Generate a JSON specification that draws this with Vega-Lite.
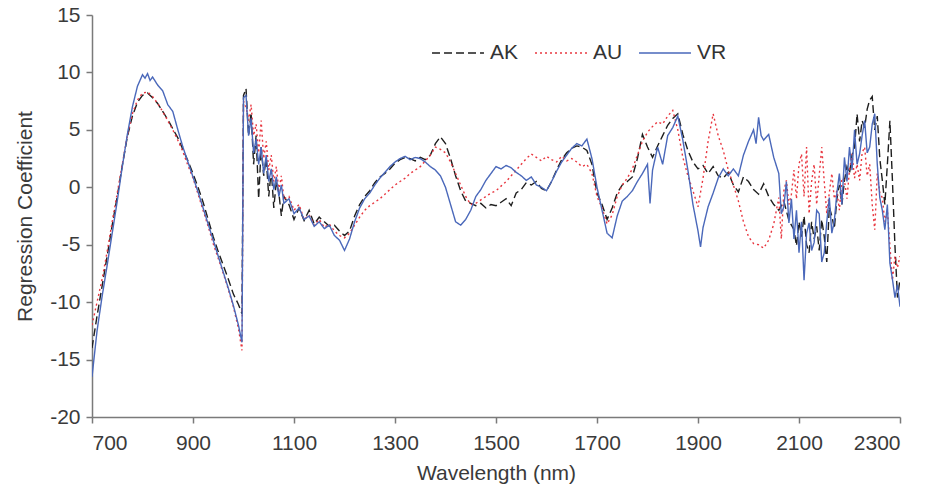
{
  "$schema": "https://vega.github.io/schema/vega-lite/v6.json",
  "width": 808,
  "height": 402,
  "autosize": {"type": "none"},
  "padding": {"left": 92, "top": 15, "right": 28, "bottom": 71},
  "background": "white",
  "config": {
    "view": {"stroke": null},
    "font": "Liberation Sans",
    "axis": {"grid": false, "domainColor": "#7a7a7a", "tickColor": "#7a7a7a", "labelColor": "#3a3a3a", "titleColor": "#3a3a3a", "labelFontSize": 21, "titleFontSize": 21, "titleFontWeight": "normal", "tickSize": 6, "domainWidth": 1.5, "tickWidth": 1.5}
  },
  "datasets": {
    "spectra": [
{"w":700,"s":"AK","v":-14},{"w":710,"s":"AK","v":-11.2},{"w":720,"s":"AK","v":-8.6},{"w":730,"s":"AK","v":-6},{"w":740,"s":"AK","v":-3.3},{"w":750,"s":"AK","v":-0.8},{"w":760,"s":"AK","v":1.9},{"w":770,"s":"AK","v":4.4},{"w":780,"s":"AK","v":6.2},{"w":790,"s":"AK","v":7.4},{"w":800,"s":"AK","v":8.0},{"w":810,"s":"AK","v":8.2},{"w":820,"s":"AK","v":7.8},{"w":830,"s":"AK","v":7.3},{"w":840,"s":"AK","v":6.6},{"w":850,"s":"AK","v":5.9},{"w":860,"s":"AK","v":5.1},{"w":870,"s":"AK","v":4.3},{"w":880,"s":"AK","v":3.3},{"w":890,"s":"AK","v":2.3},{"w":900,"s":"AK","v":1.2},{"w":910,"s":"AK","v":0},{"w":920,"s":"AK","v":-1.3},{"w":930,"s":"AK","v":-2.8},{"w":940,"s":"AK","v":-4.3},{"w":950,"s":"AK","v":-5.6},{"w":960,"s":"AK","v":-6.8},{"w":970,"s":"AK","v":-8.0},{"w":980,"s":"AK","v":-9.3},{"w":990,"s":"AK","v":-10.2},{"w":997,"s":"AK","v":-11},{"w":1000,"s":"AK","v":8.0},{"w":1005,"s":"AK","v":8.6},{"w":1010,"s":"AK","v":4.5},{"w":1015,"s":"AK","v":6.5},{"w":1020,"s":"AK","v":2.0},{"w":1025,"s":"AK","v":4.5},{"w":1030,"s":"AK","v":-1.0},{"w":1035,"s":"AK","v":3.5},{"w":1040,"s":"AK","v":1.0},{"w":1045,"s":"AK","v":2.5},{"w":1050,"s":"AK","v":-0.8},{"w":1055,"s":"AK","v":1.5},{"w":1060,"s":"AK","v":-1.8},{"w":1065,"s":"AK","v":0.5},{"w":1070,"s":"AK","v":-0.5},{"w":1075,"s":"AK","v":-2.5},{"w":1080,"s":"AK","v":-0.8},{"w":1090,"s":"AK","v":-1.5},{"w":1100,"s":"AK","v":-2.8},{"w":1110,"s":"AK","v":-1.8},{"w":1120,"s":"AK","v":-2.9},{"w":1130,"s":"AK","v":-2.0},{"w":1140,"s":"AK","v":-3.2},{"w":1150,"s":"AK","v":-2.6},{"w":1160,"s":"AK","v":-3.0},{"w":1170,"s":"AK","v":-3.4},{"w":1180,"s":"AK","v":-3.3},{"w":1190,"s":"AK","v":-3.8},{"w":1200,"s":"AK","v":-4.2},{"w":1210,"s":"AK","v":-3.8},{"w":1220,"s":"AK","v":-2.5},{"w":1230,"s":"AK","v":-1.5},{"w":1240,"s":"AK","v":-0.8},{"w":1250,"s":"AK","v":-0.3},{"w":1260,"s":"AK","v":0.4},{"w":1270,"s":"AK","v":0.9},{"w":1280,"s":"AK","v":1.2},{"w":1290,"s":"AK","v":1.6},{"w":1300,"s":"AK","v":2.1},{"w":1310,"s":"AK","v":2.4},{"w":1320,"s":"AK","v":2.6},{"w":1330,"s":"AK","v":2.5},{"w":1340,"s":"AK","v":2.3},{"w":1350,"s":"AK","v":2.6},{"w":1360,"s":"AK","v":2.4},{"w":1370,"s":"AK","v":2.8},{"w":1380,"s":"AK","v":3.8},{"w":1390,"s":"AK","v":4.4},{"w":1400,"s":"AK","v":3.8},{"w":1410,"s":"AK","v":2.5},{"w":1420,"s":"AK","v":1.0},{"w":1430,"s":"AK","v":-0.3},{"w":1440,"s":"AK","v":-1.2},{"w":1450,"s":"AK","v":-1.4},{"w":1460,"s":"AK","v":-1.6},{"w":1470,"s":"AK","v":-1.4},{"w":1480,"s":"AK","v":-1.8},{"w":1490,"s":"AK","v":-1.5},{"w":1500,"s":"AK","v":-1.6},{"w":1510,"s":"AK","v":-1.3},{"w":1520,"s":"AK","v":-1.0},{"w":1530,"s":"AK","v":-1.6},{"w":1540,"s":"AK","v":-0.5},{"w":1550,"s":"AK","v":-0.2},{"w":1560,"s":"AK","v":0.4},{"w":1570,"s":"AK","v":0.2},{"w":1580,"s":"AK","v":0.5},{"w":1590,"s":"AK","v":-0.1},{"w":1600,"s":"AK","v":-0.3},{"w":1610,"s":"AK","v":0.5},{"w":1620,"s":"AK","v":1.5},{"w":1630,"s":"AK","v":2.4},{"w":1640,"s":"AK","v":3.0},{"w":1650,"s":"AK","v":3.4},{"w":1660,"s":"AK","v":3.6},{"w":1670,"s":"AK","v":3.5},{"w":1680,"s":"AK","v":3.2},{"w":1690,"s":"AK","v":2.0},{"w":1700,"s":"AK","v":-0.5},{"w":1710,"s":"AK","v":-1.5},{"w":1720,"s":"AK","v":-2.8},{"w":1730,"s":"AK","v":-1.8},{"w":1740,"s":"AK","v":-0.5},{"w":1750,"s":"AK","v":0.2},{"w":1760,"s":"AK","v":0.5},{"w":1770,"s":"AK","v":0.9},{"w":1780,"s":"AK","v":2.5},{"w":1790,"s":"AK","v":4.6},{"w":1800,"s":"AK","v":3.5},{"w":1810,"s":"AK","v":2.6},{"w":1820,"s":"AK","v":3.6},{"w":1830,"s":"AK","v":4.5},{"w":1840,"s":"AK","v":5.4},{"w":1850,"s":"AK","v":6.0},{"w":1860,"s":"AK","v":6.4},{"w":1870,"s":"AK","v":4.6},{"w":1880,"s":"AK","v":3.2},{"w":1890,"s":"AK","v":2.2},{"w":1900,"s":"AK","v":1.6},{"w":1910,"s":"AK","v":1.9},{"w":1920,"s":"AK","v":1.2},{"w":1930,"s":"AK","v":1.8},{"w":1940,"s":"AK","v":1.0},{"w":1950,"s":"AK","v":0.8},{"w":1960,"s":"AK","v":1.3},{"w":1970,"s":"AK","v":0.2},{"w":1980,"s":"AK","v":-0.4},{"w":1990,"s":"AK","v":0.9},{"w":2000,"s":"AK","v":0.5},{"w":2010,"s":"AK","v":-0.2},{"w":2020,"s":"AK","v":-0.6},{"w":2030,"s":"AK","v":0.3},{"w":2040,"s":"AK","v":-0.8},{"w":2050,"s":"AK","v":-1.5},{"w":2060,"s":"AK","v":-2.0},{"w":2070,"s":"AK","v":-1.2},{"w":2080,"s":"AK","v":-2.9},{"w":2090,"s":"AK","v":-3.7},{"w":2095,"s":"AK","v":-5.1},{"w":2100,"s":"AK","v":-3.0},{"w":2105,"s":"AK","v":-4.3},{"w":2110,"s":"AK","v":-2.5},{"w":2115,"s":"AK","v":-5.0},{"w":2120,"s":"AK","v":-5.7},{"w":2125,"s":"AK","v":-3.0},{"w":2130,"s":"AK","v":-4.5},{"w":2135,"s":"AK","v":-3.4},{"w":2140,"s":"AK","v":-5.5},{"w":2145,"s":"AK","v":-2.8},{"w":2150,"s":"AK","v":-4.3},{"w":2155,"s":"AK","v":-6.5},{"w":2160,"s":"AK","v":-1.7},{"w":2165,"s":"AK","v":-2.5},{"w":2170,"s":"AK","v":-3.6},{"w":2175,"s":"AK","v":-1.0},{"w":2180,"s":"AK","v":0.2},{"w":2185,"s":"AK","v":-1.5},{"w":2190,"s":"AK","v":0.6},{"w":2195,"s":"AK","v":1.8},{"w":2200,"s":"AK","v":1.2},{"w":2205,"s":"AK","v":2.8},{"w":2210,"s":"AK","v":3.5},{"w":2215,"s":"AK","v":6.4},{"w":2220,"s":"AK","v":4.0},{"w":2225,"s":"AK","v":5.8},{"w":2230,"s":"AK","v":5.2},{"w":2235,"s":"AK","v":6.8},{"w":2240,"s":"AK","v":7.6},{"w":2245,"s":"AK","v":7.9},{"w":2250,"s":"AK","v":5.0},{"w":2255,"s":"AK","v":6.2},{"w":2260,"s":"AK","v":2.5},{"w":2265,"s":"AK","v":0.6},{"w":2270,"s":"AK","v":-1.5},{"w":2275,"s":"AK","v":2.0},{"w":2280,"s":"AK","v":5.8},{"w":2285,"s":"AK","v":0.6},{"w":2290,"s":"AK","v":-5.1},{"w":2295,"s":"AK","v":-9.6},{"w":2300,"s":"AK","v":-8.0},
{"w":700,"s":"AU","v":-12},{"w":710,"s":"AU","v":-10},{"w":720,"s":"AU","v":-8.0},{"w":730,"s":"AU","v":-5.6},{"w":740,"s":"AU","v":-3.0},{"w":750,"s":"AU","v":-0.5},{"w":760,"s":"AU","v":2.0},{"w":770,"s":"AU","v":4.5},{"w":780,"s":"AU","v":6.4},{"w":790,"s":"AU","v":7.6},{"w":800,"s":"AU","v":8.2},{"w":810,"s":"AU","v":8.3},{"w":820,"s":"AU","v":7.9},{"w":830,"s":"AU","v":7.3},{"w":840,"s":"AU","v":6.6},{"w":850,"s":"AU","v":5.8},{"w":860,"s":"AU","v":5.0},{"w":870,"s":"AU","v":4.1},{"w":880,"s":"AU","v":3.1},{"w":890,"s":"AU","v":1.9},{"w":900,"s":"AU","v":0.8},{"w":910,"s":"AU","v":-0.6},{"w":920,"s":"AU","v":-2.0},{"w":930,"s":"AU","v":-3.4},{"w":940,"s":"AU","v":-4.9},{"w":950,"s":"AU","v":-6.2},{"w":960,"s":"AU","v":-7.5},{"w":970,"s":"AU","v":-8.9},{"w":980,"s":"AU","v":-10.4},{"w":990,"s":"AU","v":-12.3},{"w":997,"s":"AU","v":-14.2},{"w":1000,"s":"AU","v":7.5},{"w":1005,"s":"AU","v":7.0},{"w":1010,"s":"AU","v":5.8},{"w":1015,"s":"AU","v":7.2},{"w":1020,"s":"AU","v":4.5},{"w":1025,"s":"AU","v":5.5},{"w":1030,"s":"AU","v":3.0},{"w":1035,"s":"AU","v":5.8},{"w":1040,"s":"AU","v":2.5},{"w":1045,"s":"AU","v":4.0},{"w":1050,"s":"AU","v":1.5},{"w":1055,"s":"AU","v":2.8},{"w":1060,"s":"AU","v":0.5},{"w":1065,"s":"AU","v":1.8},{"w":1070,"s":"AU","v":-0.3},{"w":1075,"s":"AU","v":1.0},{"w":1080,"s":"AU","v":-1.0},{"w":1090,"s":"AU","v":-0.8},{"w":1100,"s":"AU","v":-2.0},{"w":1110,"s":"AU","v":-1.5},{"w":1120,"s":"AU","v":-2.8},{"w":1130,"s":"AU","v":-2.4},{"w":1140,"s":"AU","v":-3.3},{"w":1150,"s":"AU","v":-2.8},{"w":1160,"s":"AU","v":-3.5},{"w":1170,"s":"AU","v":-3.2},{"w":1180,"s":"AU","v":-3.8},{"w":1190,"s":"AU","v":-4.2},{"w":1200,"s":"AU","v":-4.4},{"w":1210,"s":"AU","v":-4.0},{"w":1220,"s":"AU","v":-3.3},{"w":1230,"s":"AU","v":-2.6},{"w":1240,"s":"AU","v":-2.0},{"w":1250,"s":"AU","v":-1.6},{"w":1260,"s":"AU","v":-1.3},{"w":1270,"s":"AU","v":-1.0},{"w":1280,"s":"AU","v":-0.6},{"w":1290,"s":"AU","v":-0.2},{"w":1300,"s":"AU","v":0.2},{"w":1310,"s":"AU","v":0.5},{"w":1320,"s":"AU","v":0.8},{"w":1330,"s":"AU","v":1.2},{"w":1340,"s":"AU","v":1.5},{"w":1350,"s":"AU","v":1.8},{"w":1360,"s":"AU","v":2.3},{"w":1370,"s":"AU","v":2.8},{"w":1380,"s":"AU","v":3.5},{"w":1390,"s":"AU","v":3.3},{"w":1400,"s":"AU","v":3.0},{"w":1410,"s":"AU","v":2.2},{"w":1420,"s":"AU","v":1.2},{"w":1430,"s":"AU","v":0.2},{"w":1440,"s":"AU","v":-0.8},{"w":1450,"s":"AU","v":-1.5},{"w":1460,"s":"AU","v":-1.4},{"w":1470,"s":"AU","v":-1.1},{"w":1480,"s":"AU","v":-0.8},{"w":1490,"s":"AU","v":-0.5},{"w":1500,"s":"AU","v":-0.3},{"w":1510,"s":"AU","v":0.1},{"w":1520,"s":"AU","v":0.5},{"w":1530,"s":"AU","v":1.0},{"w":1540,"s":"AU","v":1.5},{"w":1550,"s":"AU","v":2.0},{"w":1560,"s":"AU","v":2.5},{"w":1570,"s":"AU","v":2.9},{"w":1580,"s":"AU","v":2.6},{"w":1590,"s":"AU","v":2.3},{"w":1600,"s":"AU","v":2.7},{"w":1610,"s":"AU","v":2.4},{"w":1620,"s":"AU","v":2.2},{"w":1630,"s":"AU","v":2.7},{"w":1640,"s":"AU","v":2.3},{"w":1650,"s":"AU","v":2.5},{"w":1660,"s":"AU","v":2.2},{"w":1670,"s":"AU","v":1.8},{"w":1680,"s":"AU","v":2.0},{"w":1690,"s":"AU","v":1.2},{"w":1700,"s":"AU","v":-0.8},{"w":1710,"s":"AU","v":-1.8},{"w":1720,"s":"AU","v":-3.2},{"w":1730,"s":"AU","v":-2.4},{"w":1740,"s":"AU","v":-0.8},{"w":1750,"s":"AU","v":0.2},{"w":1760,"s":"AU","v":0.8},{"w":1770,"s":"AU","v":1.6},{"w":1780,"s":"AU","v":2.8},{"w":1790,"s":"AU","v":4.0},{"w":1800,"s":"AU","v":4.8},{"w":1810,"s":"AU","v":5.3},{"w":1820,"s":"AU","v":5.7},{"w":1830,"s":"AU","v":5.5},{"w":1840,"s":"AU","v":6.2},{"w":1850,"s":"AU","v":6.7},{"w":1860,"s":"AU","v":5.0},{"w":1870,"s":"AU","v":2.6},{"w":1880,"s":"AU","v":1.0},{"w":1890,"s":"AU","v":-0.3},{"w":1900,"s":"AU","v":-1.7},{"w":1910,"s":"AU","v":0.8},{"w":1920,"s":"AU","v":4.0},{"w":1930,"s":"AU","v":6.4},{"w":1940,"s":"AU","v":4.5},{"w":1950,"s":"AU","v":3.2},{"w":1960,"s":"AU","v":1.5},{"w":1970,"s":"AU","v":0.2},{"w":1980,"s":"AU","v":-1.2},{"w":1990,"s":"AU","v":-3.0},{"w":2000,"s":"AU","v":-4.3},{"w":2010,"s":"AU","v":-4.9},{"w":2020,"s":"AU","v":-5.0},{"w":2030,"s":"AU","v":-5.3},{"w":2040,"s":"AU","v":-4.6},{"w":2050,"s":"AU","v":-3.2},{"w":2060,"s":"AU","v":-0.9},{"w":2065,"s":"AU","v":-4.5},{"w":2070,"s":"AU","v":-0.3},{"w":2075,"s":"AU","v":0.6},{"w":2080,"s":"AU","v":-1.5},{"w":2085,"s":"AU","v":-0.6},{"w":2090,"s":"AU","v":1.5},{"w":2095,"s":"AU","v":-1.0},{"w":2100,"s":"AU","v":2.0},{"w":2105,"s":"AU","v":2.9},{"w":2110,"s":"AU","v":-0.8},{"w":2115,"s":"AU","v":3.5},{"w":2120,"s":"AU","v":-2.3},{"w":2125,"s":"AU","v":0.5},{"w":2130,"s":"AU","v":2.0},{"w":2135,"s":"AU","v":-1.5},{"w":2140,"s":"AU","v":1.0},{"w":2145,"s":"AU","v":3.5},{"w":2150,"s":"AU","v":0.5},{"w":2155,"s":"AU","v":-2.3},{"w":2160,"s":"AU","v":-0.5},{"w":2165,"s":"AU","v":1.2},{"w":2170,"s":"AU","v":-1.0},{"w":2175,"s":"AU","v":-0.3},{"w":2180,"s":"AU","v":-2.0},{"w":2185,"s":"AU","v":0.8},{"w":2190,"s":"AU","v":0.6},{"w":2195,"s":"AU","v":-1.0},{"w":2200,"s":"AU","v":1.5},{"w":2205,"s":"AU","v":2.9},{"w":2210,"s":"AU","v":0.8},{"w":2215,"s":"AU","v":2.0},{"w":2220,"s":"AU","v":0.6},{"w":2225,"s":"AU","v":3.0},{"w":2230,"s":"AU","v":3.5},{"w":2235,"s":"AU","v":1.0},{"w":2240,"s":"AU","v":2.0},{"w":2245,"s":"AU","v":-1.5},{"w":2250,"s":"AU","v":-3.7},{"w":2255,"s":"AU","v":1.2},{"w":2260,"s":"AU","v":-0.5},{"w":2265,"s":"AU","v":-0.9},{"w":2270,"s":"AU","v":-3.0},{"w":2275,"s":"AU","v":-2.0},{"w":2280,"s":"AU","v":-5.1},{"w":2285,"s":"AU","v":-8.1},{"w":2290,"s":"AU","v":-6.0},{"w":2295,"s":"AU","v":-7.0},{"w":2300,"s":"AU","v":-6.0},
{"w":700,"s":"VR","v":-16.5},{"w":710,"s":"VR","v":-12.5},{"w":720,"s":"VR","v":-9.5},{"w":730,"s":"VR","v":-6.8},{"w":740,"s":"VR","v":-4.0},{"w":750,"s":"VR","v":-1.2},{"w":760,"s":"VR","v":1.8},{"w":770,"s":"VR","v":4.6},{"w":780,"s":"VR","v":7.0},{"w":790,"s":"VR","v":8.8},{"w":800,"s":"VR","v":9.8},{"w":805,"s":"VR","v":9.5},{"w":810,"s":"VR","v":9.9},{"w":815,"s":"VR","v":9.3},{"w":820,"s":"VR","v":9.6},{"w":830,"s":"VR","v":8.9},{"w":840,"s":"VR","v":8.4},{"w":850,"s":"VR","v":7.2},{"w":860,"s":"VR","v":6.6},{"w":870,"s":"VR","v":5.0},{"w":880,"s":"VR","v":3.5},{"w":890,"s":"VR","v":2.2},{"w":900,"s":"VR","v":0.9},{"w":910,"s":"VR","v":-0.4},{"w":920,"s":"VR","v":-1.8},{"w":930,"s":"VR","v":-3.2},{"w":940,"s":"VR","v":-4.6},{"w":950,"s":"VR","v":-6.0},{"w":960,"s":"VR","v":-7.4},{"w":970,"s":"VR","v":-8.8},{"w":980,"s":"VR","v":-10.3},{"w":990,"s":"VR","v":-12.0},{"w":997,"s":"VR","v":-13.5},{"w":1000,"s":"VR","v":7.8},{"w":1005,"s":"VR","v":8.0},{"w":1010,"s":"VR","v":4.5},{"w":1015,"s":"VR","v":6.0},{"w":1020,"s":"VR","v":3.0},{"w":1025,"s":"VR","v":4.2},{"w":1030,"s":"VR","v":2.0},{"w":1035,"s":"VR","v":3.5},{"w":1040,"s":"VR","v":1.2},{"w":1045,"s":"VR","v":2.8},{"w":1050,"s":"VR","v":0.5},{"w":1055,"s":"VR","v":1.6},{"w":1060,"s":"VR","v":-0.2},{"w":1065,"s":"VR","v":0.9},{"w":1070,"s":"VR","v":-0.8},{"w":1075,"s":"VR","v":0.2},{"w":1080,"s":"VR","v":-1.4},{"w":1090,"s":"VR","v":-1.0},{"w":1100,"s":"VR","v":-2.3},{"w":1110,"s":"VR","v":-1.8},{"w":1120,"s":"VR","v":-2.8},{"w":1130,"s":"VR","v":-2.5},{"w":1140,"s":"VR","v":-3.4},{"w":1150,"s":"VR","v":-3.0},{"w":1160,"s":"VR","v":-3.6},{"w":1170,"s":"VR","v":-3.3},{"w":1180,"s":"VR","v":-4.2},{"w":1190,"s":"VR","v":-4.6},{"w":1200,"s":"VR","v":-5.5},{"w":1210,"s":"VR","v":-4.5},{"w":1220,"s":"VR","v":-3.0},{"w":1230,"s":"VR","v":-1.8},{"w":1240,"s":"VR","v":-1.0},{"w":1250,"s":"VR","v":-0.5},{"w":1260,"s":"VR","v":0.2},{"w":1270,"s":"VR","v":0.8},{"w":1280,"s":"VR","v":1.3},{"w":1290,"s":"VR","v":1.8},{"w":1300,"s":"VR","v":2.2},{"w":1310,"s":"VR","v":2.5},{"w":1320,"s":"VR","v":2.7},{"w":1330,"s":"VR","v":2.4},{"w":1340,"s":"VR","v":2.6},{"w":1350,"s":"VR","v":2.5},{"w":1360,"s":"VR","v":2.2},{"w":1370,"s":"VR","v":1.8},{"w":1380,"s":"VR","v":1.5},{"w":1390,"s":"VR","v":1.0},{"w":1400,"s":"VR","v":0.0},{"w":1410,"s":"VR","v":-1.5},{"w":1420,"s":"VR","v":-3.0},{"w":1430,"s":"VR","v":-3.3},{"w":1440,"s":"VR","v":-2.8},{"w":1450,"s":"VR","v":-2.0},{"w":1460,"s":"VR","v":-0.8},{"w":1470,"s":"VR","v":-0.2},{"w":1480,"s":"VR","v":0.6},{"w":1490,"s":"VR","v":1.2},{"w":1500,"s":"VR","v":1.8},{"w":1510,"s":"VR","v":1.6},{"w":1520,"s":"VR","v":1.9},{"w":1530,"s":"VR","v":1.7},{"w":1540,"s":"VR","v":1.3},{"w":1550,"s":"VR","v":1.0},{"w":1560,"s":"VR","v":0.6},{"w":1570,"s":"VR","v":0.9},{"w":1580,"s":"VR","v":0.2},{"w":1590,"s":"VR","v":0.0},{"w":1600,"s":"VR","v":-0.3},{"w":1610,"s":"VR","v":0.5},{"w":1620,"s":"VR","v":1.4},{"w":1630,"s":"VR","v":2.2},{"w":1640,"s":"VR","v":2.8},{"w":1650,"s":"VR","v":3.4},{"w":1660,"s":"VR","v":3.8},{"w":1670,"s":"VR","v":3.6},{"w":1680,"s":"VR","v":4.2},{"w":1690,"s":"VR","v":2.5},{"w":1700,"s":"VR","v":0.0},{"w":1710,"s":"VR","v":-2.0},{"w":1720,"s":"VR","v":-4.0},{"w":1730,"s":"VR","v":-4.4},{"w":1740,"s":"VR","v":-2.5},{"w":1750,"s":"VR","v":-1.2},{"w":1760,"s":"VR","v":-0.8},{"w":1770,"s":"VR","v":-0.3},{"w":1780,"s":"VR","v":0.5},{"w":1790,"s":"VR","v":1.2},{"w":1800,"s":"VR","v":2.0},{"w":1805,"s":"VR","v":-1.4},{"w":1810,"s":"VR","v":1.5},{"w":1820,"s":"VR","v":3.5},{"w":1830,"s":"VR","v":2.0},{"w":1840,"s":"VR","v":4.5},{"w":1850,"s":"VR","v":5.2},{"w":1860,"s":"VR","v":6.2},{"w":1870,"s":"VR","v":4.1},{"w":1880,"s":"VR","v":1.5},{"w":1890,"s":"VR","v":-1.5},{"w":1900,"s":"VR","v":-3.8},{"w":1905,"s":"VR","v":-5.2},{"w":1910,"s":"VR","v":-3.5},{"w":1920,"s":"VR","v":-1.7},{"w":1930,"s":"VR","v":-0.5},{"w":1940,"s":"VR","v":0.8},{"w":1950,"s":"VR","v":1.6},{"w":1960,"s":"VR","v":1.0},{"w":1970,"s":"VR","v":1.6},{"w":1980,"s":"VR","v":1.0},{"w":1990,"s":"VR","v":2.8},{"w":2000,"s":"VR","v":4.0},{"w":2010,"s":"VR","v":5.0},{"w":2015,"s":"VR","v":3.8},{"w":2020,"s":"VR","v":6.1},{"w":2025,"s":"VR","v":4.5},{"w":2030,"s":"VR","v":4.1},{"w":2040,"s":"VR","v":4.6},{"w":2050,"s":"VR","v":2.6},{"w":2060,"s":"VR","v":1.2},{"w":2065,"s":"VR","v":-2.3},{"w":2070,"s":"VR","v":-1.7},{"w":2075,"s":"VR","v":0.5},{"w":2080,"s":"VR","v":-3.1},{"w":2085,"s":"VR","v":-1.0},{"w":2090,"s":"VR","v":-4.5},{"w":2095,"s":"VR","v":-2.0},{"w":2100,"s":"VR","v":-5.7},{"w":2105,"s":"VR","v":-3.0},{"w":2110,"s":"VR","v":-8.1},{"w":2115,"s":"VR","v":-4.0},{"w":2120,"s":"VR","v":-3.1},{"w":2125,"s":"VR","v":-5.5},{"w":2130,"s":"VR","v":-4.8},{"w":2135,"s":"VR","v":-2.0},{"w":2140,"s":"VR","v":-2.3},{"w":2145,"s":"VR","v":-6.5},{"w":2150,"s":"VR","v":-5.7},{"w":2155,"s":"VR","v":-3.0},{"w":2160,"s":"VR","v":-0.9},{"w":2165,"s":"VR","v":-4.0},{"w":2170,"s":"VR","v":-2.9},{"w":2175,"s":"VR","v":-0.5},{"w":2180,"s":"VR","v":1.2},{"w":2185,"s":"VR","v":-1.5},{"w":2190,"s":"VR","v":2.6},{"w":2195,"s":"VR","v":0.5},{"w":2200,"s":"VR","v":3.5},{"w":2205,"s":"VR","v":1.5},{"w":2210,"s":"VR","v":5.0},{"w":2215,"s":"VR","v":2.0},{"w":2220,"s":"VR","v":2.9},{"w":2225,"s":"VR","v":4.5},{"w":2230,"s":"VR","v":5.8},{"w":2235,"s":"VR","v":3.0},{"w":2240,"s":"VR","v":3.5},{"w":2245,"s":"VR","v":5.5},{"w":2250,"s":"VR","v":6.4},{"w":2255,"s":"VR","v":2.0},{"w":2260,"s":"VR","v":-0.9},{"w":2265,"s":"VR","v":-2.0},{"w":2270,"s":"VR","v":-3.7},{"w":2275,"s":"VR","v":-1.5},{"w":2280,"s":"VR","v":-6.6},{"w":2285,"s":"VR","v":-8.0},{"w":2290,"s":"VR","v":-9.6},{"w":2295,"s":"VR","v":-8.5},{"w":2300,"s":"VR","v":-10.4}
    ]
  },
  "data": {"name": "spectra"},
  "mark": {"type": "line", "strokeWidth": 1.4, "clip": true},
  "encoding": {
    "x": {"field": "w", "type": "quantitative", "title": "Wavelength (nm)", "scale": {"domain": [700, 2300], "nice": false}, "axis": {"values": [700, 900, 1100, 1300, 1500, 1700, 1900, 2100, 2300], "format": "d", "labelPadding": 9, "titlePadding": 9}},
    "y": {"field": "v", "type": "quantitative", "title": "Regression Coefficient", "scale": {"domain": [-20, 15], "nice": false}, "axis": {"values": [-20, -15, -10, -5, 0, 5, 10, 15], "labelExpr": "toString(datum.value)", "labelPadding": 6, "titlePadding": 14}},
    "color": {"field": "s", "type": "nominal", "title": null, "scale": {"domain": ["AK", "AU", "VR"], "range": ["#1e1e1e", "#e8363f", "#4a68ba"]}, "legend": {"orient": "none", "legendX": 339, "legendY": 11, "direction": "horizontal", "symbolType": "stroke", "symbolSize": 2700, "symbolStrokeWidth": 1.6, "labelFontSize": 21, "labelColor": "#333333", "columnPadding": 12, "labelOffset": 5}},
    "strokeDash": {"field": "s", "type": "nominal", "title": null, "scale": {"domain": ["AK", "AU", "VR"], "range": [[8, 4], [2, 3], [1, 0]]}}
  }
}
